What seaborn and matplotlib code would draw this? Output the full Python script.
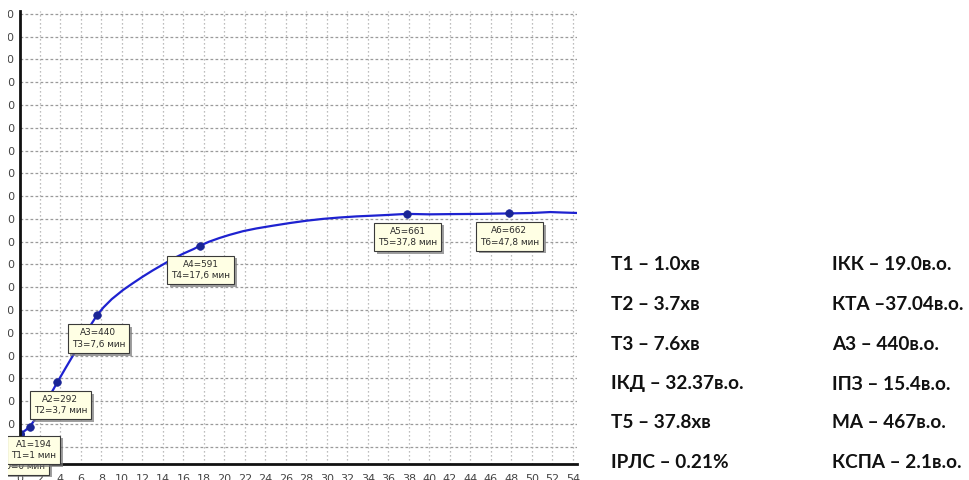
import matplotlib
matplotlib.use("Agg")
import matplotlib.pyplot as plt
import matplotlib.patheffects as pe
from matplotlib.patches import Rectangle
import pandas as pd
import seaborn as sns

# Clot amplitude curve (time in minutes, amplitude in relative units)
time_min = [0, 0.5, 1, 1.5, 2, 2.5, 3, 3.7, 4.5, 5.5, 6.5, 7.0, 7.6, 8.2, 9.0,
            10.1, 11.0, 12.0, 13.0, 14.0, 15.0, 16.0, 17.0, 17.6, 18.5, 19.5,
            20.5, 21.8, 23.1, 24.7, 26.4, 28.0, 29.6, 31.2, 32.9, 34.4, 35.8,
            37.8, 40, 42, 45, 47.8, 50, 51.8, 53, 54.4]
amplitude = [178, 185, 194, 210, 227, 245, 264, 292, 323, 361, 400, 419, 440, 456, 474,
             494, 508, 523, 537, 550, 563, 574, 584, 591, 600, 608,
             615, 623, 629, 635, 641, 646, 650, 653, 655.5, 657, 658.5,
             661, 660, 660.5, 661, 662, 663, 665, 664, 663]

# Marked points on the curve
mark_t = [1, 3.7, 7.6, 17.6, 37.8, 47.8]
mark_a = [194, 292, 440, 591, 661, 662]
mark_t_text = ["1", "3,7", "7,6", "17,6", "37,8", "47,8"]

# Summary parameters shown next to the chart
left_params = ["Т1 – 1.0хв", "Т2 – 3.7хв", "Т3 – 7.6хв",
               "ІКД – 32.37в.о.", "Т5 – 37.8хв", "ІРЛС – 0.21%"]
right_params = ["ІКК – 19.0в.о.", "КТА –37.04в.о.", "А3 – 440в.о.",
                "ІПЗ – 15.4в.о.", "МА – 467в.о.", "КСПА – 2.1в.о."]

x_ticks = list(range(0, 55, 2))
y_ticks = list(range(150, 1101, 50))

sns.set_style("white")
plt.rcParams["font.family"] = ["DejaVu Sans"]

W, H = 969, 480
fig = plt.figure(figsize=(W / 100, H / 100), dpi=100)
ax = fig.add_axes([19.5 / W, 16.5 / H, 557.5 / W, 452.5 / H])

curve = pd.DataFrame({"t": time_min, "a": amplitude})
marks = pd.DataFrame({"t": mark_t, "a": mark_a})

# Grid: dashed horizontals, dotted verticals
for yv in y_ticks:
    ax.axhline(yv, color="#9a9a9a", lw=0.9, ls=(0, (2.2, 1.8)), zorder=0)
for xv in x_ticks:
    ax.axvline(xv, color="#a8a8a8", lw=0.9, ls=(0, (1, 2.2)), zorder=0)

sns.lineplot(data=curve, x="t", y="a", ax=ax, color="#1e22d0", lw=1.6,
             zorder=3, legend=False)
sns.scatterplot(data=marks, x="t", y="a", ax=ax, color="#1a2596", s=30,
                edgecolor="#1a2596", linewidth=0.5, zorder=4, legend=False)
ax.scatter([time_min[0]], [amplitude[0]], s=30, color="#1a2596", zorder=4)

ax.set_xlim(0, 54.4)
ax.set_ylim(113.5, 1106)
ax.set_xticks(x_ticks)
ax.set_yticks(y_ticks)
ax.set_xticklabels([str(v) for v in x_ticks])
ax.set_yticklabels([str(v) for v in y_ticks])
ax.tick_params(axis="both", labelsize=8, colors="#444444", length=2, width=0.8)
ax.tick_params(axis="y", pad=1.2)
ax.tick_params(axis="x", pad=5.5)
ax.set_xlabel("")
ax.set_ylabel("")
for side in ("top", "right"):
    ax.spines[side].set_visible(False)
for side in ("left", "bottom"):
    ax.spines[side].set_color("#111111")
    ax.spines[side].set_linewidth(2.0)
    ax.spines[side].set_zorder(5)


def tag(text, x, y, dx, dy):
    t = ax.annotate(text, xy=(x, y), xytext=(dx, dy), textcoords="offset pixels",
                    ha="center", va="center", multialignment="center",
                    fontsize=6.4, color="#2a2a2a", linespacing=1.35, zorder=6,
                    annotation_clip=False,
                    bbox=dict(boxstyle="square,pad=0.45", fc="#ffffe4",
                              ec="#3a3a3a", lw=0.8))
    t.get_bbox_patch().set_path_effects([
        pe.SimplePatchShadow(offset=(2, -2), shadow_rgbFace="#777777", alpha=0.7),
        pe.Normal()])
    return t


# Start-of-record tag, mostly hidden behind the first tag
tag("T0=0 мин", time_min[0], amplitude[0], 3, -32)

offsets = [(4, -23), (3, -23), (1, -24), (1, -24), (1, -23), (0, -23)]
for i, (tt, aa, ts) in enumerate(zip(mark_t, mark_a, mark_t_text)):
    tag(f"A{i + 1}={aa}\nT{i + 1}={ts} мин", tt, aa, *offsets[i])

# Narrow white margin on the left edge of the panel
fig.patches.append(Rectangle((0, 0), 8.0 / W, 1, transform=fig.transFigure,
                             facecolor="white", edgecolor="none", zorder=20))

row_y = [265, 305, 344, 384, 423, 463]
for ry, ltxt, rtxt in zip(row_y, left_params, right_params):
    fig.text(611 / W, 1 - ry / H, ltxt, ha="left", va="center",
             fontsize=13.7, fontweight="bold", family="Lato", color="#111111")
    fig.text(832 / W, 1 - ry / H, rtxt, ha="left", va="center",
             fontsize=13.7, fontweight="bold", family="Lato", color="#111111")

fig.savefig("out.png", dpi=100)
